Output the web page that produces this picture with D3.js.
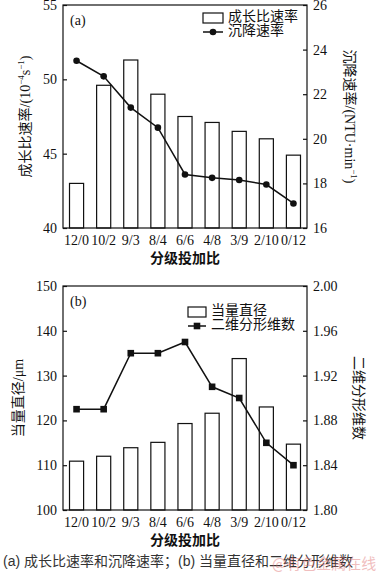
<html>
<head>
<meta charset="utf-8">
<title>分级投加比</title>
<style>
  body { margin: 0; background: #fff; }
</style>
</head>
<body>
<script src="https://cdn.jsdelivr.net/npm/d3@7/dist/d3.min.js"></script>
<script>
// 数据
var categories = ["12/0", "10/2", "9/3", "8/4", "6/6", "4/8", "3/9", "2/10", "0/12"];
var growthRate = [43.0, 49.6, 51.3, 49.0, 47.5, 47.1, 46.5, 46.0, 44.9];      // 成长比速率 10^-4 s^-1
var settleRate = [23.5, 22.8, 21.4, 20.5, 18.4, 18.25, 18.15, 17.95, 17.1];   // 沉降速率 NTU/min
var diameter   = [110.9, 112.0, 113.9, 115.1, 119.3, 121.6, 133.8, 123.0, 114.7]; // 当量直径 μm
var fractalDim = [1.89, 1.89, 1.94, 1.94, 1.95, 1.91, 1.90, 1.86, 1.84];       // 二维分形维数
var ticksA_left = [40, 45, 50, 55], ticksA_right = [16, 18, 20, 22, 24, 26];
var ticksB_left = [100, 110, 120, 130, 140, 150], ticksB_right = [1.80, 1.84, 1.88, 1.92, 1.96, 2.00];

var W = 376, H = 574;
var serif = "'Liberation Serif', 'Times New Roman', serif";
var cjk = "'Liberation Serif', 'Noto Sans CJK SC', serif";

var svg = d3.select("body").append("svg")
    .attr("width", W).attr("height", H);

function panel(cfg) {
  var left = 63, right = 307, top = cfg.top, bottom = cfg.bottom;
  var g = svg.append("g");

  var x = d3.scaleBand().domain(categories).range([left, right]).paddingInner(0.48).paddingOuter(0.24);
  var yL = d3.scaleLinear().domain(cfg.leftDomain).range([bottom, top]);
  var yR = d3.scaleLinear().domain(cfg.rightDomain).range([bottom, top]);

  // 柱
  g.selectAll(".bar").data(cfg.bars).enter().append("rect")
    .attr("class", "bar")
    .attr("x", (d, i) => x(categories[i]))
    .attr("y", d => yL(d))
    .attr("width", x.bandwidth())
    .attr("height", d => bottom - yL(d))
    .attr("fill", "#fff").attr("stroke", "#111").attr("stroke-width", 1.2);

  // 折线
  var line = d3.line().x((d, i) => x(categories[i]) + x.bandwidth() / 2).y(d => yR(d));
  g.append("path").datum(cfg.line).attr("d", line)
    .attr("fill", "none").attr("stroke", "#111").attr("stroke-width", 1.5);
  if (cfg.marker == "circle") {
    g.selectAll(".pt").data(cfg.line).enter().append("circle")
      .attr("cx", (d, i) => x(categories[i]) + x.bandwidth() / 2)
      .attr("cy", d => yR(d)).attr("r", 3.3).attr("fill", "#111");
  } else {
    g.selectAll(".pt").data(cfg.line).enter().append("rect")
      .attr("x", (d, i) => x(categories[i]) + x.bandwidth() / 2 - 3.3)
      .attr("y", d => yR(d) - 3.3).attr("width", 6.6).attr("height", 6.6).attr("fill", "#111");
  }

  // 边框
  g.append("rect").attr("x", left).attr("y", top).attr("width", right - left).attr("height", bottom - top)
    .attr("fill", "none").attr("stroke", "#111").attr("stroke-width", 1.2);

  // 坐标轴
  var axL = g.append("g").attr("transform", "translate(" + left + ",0)")
    .call(d3.axisLeft(yL).tickValues(cfg.leftTicks).tickSize(-4).tickPadding(6).tickFormat(cfg.leftFmt));
  var axR = g.append("g").attr("transform", "translate(" + right + ",0)")
    .call(d3.axisRight(yR).tickValues(cfg.rightTicks).tickSize(-4).tickPadding(6).tickFormat(cfg.rightFmt));
  var axB = g.append("g").attr("transform", "translate(0," + bottom + ")")
    .call(d3.axisBottom(x).tickSize(0).tickPadding(7));
  [axL, axR, axB].forEach(function (a) {
    a.select(".domain").remove();
    a.selectAll("line").attr("stroke", "#111").attr("stroke-width", 1.2);
    a.selectAll("text").attr("font-family", serif).attr("font-size", 14).attr("fill", "#111");
  });

  // 标签
  g.append("text").attr("x", 70).attr("y", top + 20).text(cfg.tag)
    .attr("font-family", serif).attr("font-size", 14).attr("fill", "#111");

  g.append("text").attr("x", (left + right) / 2).attr("y", bottom + 35)
    .attr("text-anchor", "middle").attr("font-family", cjk).attr("font-size", 14)
    .attr("font-weight", "bold").attr("fill", "#111").text("分级投加比");

  var cy = (top + bottom) / 2;
  var yl = g.append("text").attr("transform", "translate(" + cfg.leftLabelX + "," + cy + ") rotate(-90)")
    .attr("text-anchor", "middle").attr("dominant-baseline", "middle")
    .attr("font-family", cjk).attr("font-size", 14).attr("fill", "#111");
  cfg.leftLabel.forEach(function (p) {
    yl.append("tspan").text(p[0]).attr("baseline-shift", p[1] ? "super" : null)
      .attr("font-size", p[1] ? 9 : null);
  });
  var yr = g.append("text").attr("transform", "translate(" + cfg.rightLabelX + "," + cy + ") rotate(90)")
    .attr("text-anchor", "middle").attr("dominant-baseline", "middle")
    .attr("font-family", cjk).attr("font-size", 14).attr("fill", "#111");
  cfg.rightLabel.forEach(function (p) {
    yr.append("tspan").text(p[0]).attr("baseline-shift", p[1] ? "super" : null)
      .attr("font-size", p[1] ? 9 : null);
  });

  // 图例
  var lx = cfg.legendX, ly = cfg.legendY;
  g.append("rect").attr("x", lx).attr("y", ly - 5).attr("width", cfg.legendW).attr("height", 10)
    .attr("fill", "#fff").attr("stroke", "#111").attr("stroke-width", 1.2);
  g.append("text").attr("x", lx + cfg.legendW + 5).attr("y", ly).attr("dominant-baseline", "middle")
    .attr("font-family", cjk).attr("font-size", 14).attr("fill", "#111").text(cfg.barName);
  g.append("line").attr("x1", lx).attr("x2", lx + cfg.legendW).attr("y1", ly + 14).attr("y2", ly + 14)
    .attr("stroke", "#111").attr("stroke-width", 1.5);
  if (cfg.marker == "circle") {
    g.append("circle").attr("cx", lx + cfg.legendW / 2).attr("cy", ly + 14).attr("r", 3.3).attr("fill", "#111");
  } else {
    g.append("rect").attr("x", lx + cfg.legendW / 2 - 3.3).attr("y", ly + 14 - 3.3)
      .attr("width", 6.6).attr("height", 6.6).attr("fill", "#111");
  }
  g.append("text").attr("x", lx + cfg.legendW + 5).attr("y", ly + 14).attr("dominant-baseline", "middle")
    .attr("font-family", cjk).attr("font-size", 14).attr("fill", "#111").text(cfg.lineName);
}

panel({
  top: 5, bottom: 228,
  bars: growthRate, line: settleRate, marker: "circle",
  leftDomain: [40, 55], rightDomain: [16, 26],
  leftTicks: ticksA_left, rightTicks: ticksA_right,
  leftFmt: d3.format("d"), rightFmt: d3.format("d"),
  tag: "(a)",
  leftLabelX: 27, rightLabelX: 348,
  leftLabel: [["成长比速率/(10"], ["−4", 1], ["s"], ["−1", 1], [")"]],
  rightLabel: [["沉降速率/(NTU·min"], ["−1", 1], [")"]],
  legendX: 203, legendY: 18, legendW: 20,
  barName: "成长比速率", lineName: "沉降速率"
});

panel({
  top: 286, bottom: 510,
  bars: diameter, line: fractalDim, marker: "square",
  leftDomain: [100, 150], rightDomain: [1.80, 2.00],
  leftTicks: ticksB_left, rightTicks: ticksB_right,
  leftFmt: d3.format("d"), rightFmt: d3.format(".2f"),
  tag: "(b)",
  leftLabelX: 20, rightLabelX: 357,
  leftLabel: [["当量直径/μm"]],
  rightLabel: [["二维分形维数"]],
  legendX: 188, legendY: 312, legendW: 18,
  barName: "当量直径", lineName: "二维分形维数"
});

// 图注
svg.append("text").attr("x", 3).attr("y", 566)
  .attr("font-family", "'Liberation Sans', 'Noto Sans CJK SC', sans-serif").attr("font-size", 14)
  .attr("fill", "#333").text("(a) 成长比速率和沉降速率；(b) 当量直径和二维分形维数");
svg.append("text").attr("x", 272).attr("y", 569)
  .attr("font-family", "'Noto Sans CJK SC', sans-serif").attr("font-size", 15)
  .attr("fill", "#e07070").attr("opacity", 0.45).text("@有色金属在线");
</script>
</body>
</html>
